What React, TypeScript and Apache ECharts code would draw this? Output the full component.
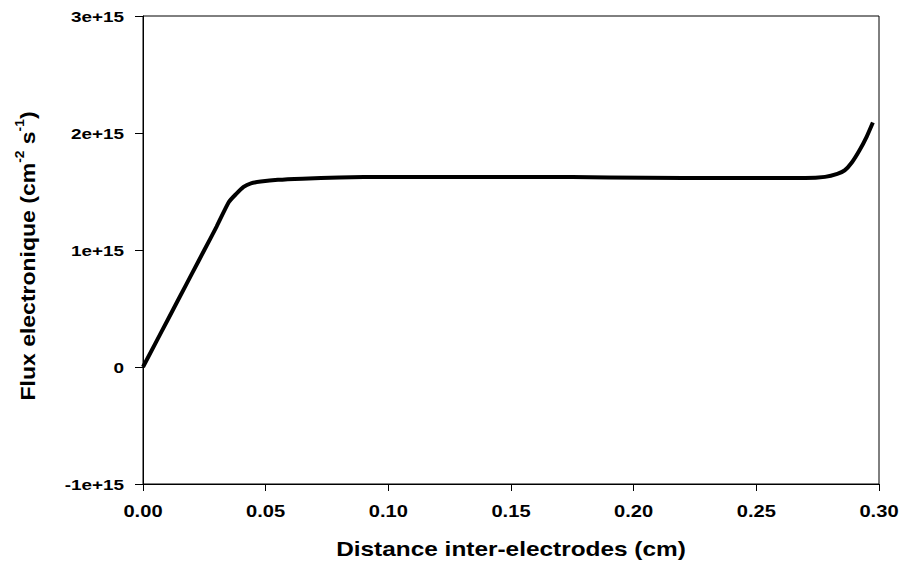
import React, { useEffect, useRef } from "react";
import * as echarts from "echarts";

const distance = [0, 0.005, 0.01, 0.015, 0.02, 0.025, 0.03, 0.035, 0.038, 0.041, 0.044, 0.048, 0.055, 0.065, 0.08, 0.1, 0.13, 0.16, 0.19, 0.22, 0.25, 0.27, 0.278, 0.283, 0.286, 0.289, 0.292, 0.295, 0.2975];
const fluxE15 = [0, 0.2, 0.4, 0.6, 0.8, 1.0, 1.2, 1.41, 1.48, 1.54, 1.57, 1.585, 1.6, 1.61, 1.62, 1.625, 1.625, 1.625, 1.62, 1.615, 1.615, 1.615, 1.625, 1.65, 1.68, 1.75, 1.85, 1.97, 2.09];
const xTickValues = [0, 0.05, 0.1, 0.15, 0.2, 0.25, 0.3];
const xTickLabels = ["0.00", "0.05", "0.10", "0.15", "0.20", "0.25", "0.30"];
const yTickValues = [-1e15, 0, 1e15, 2e15, 3e15];
const yTickLabels = ["-1e+15", "0", "1e+15", "2e+15", "3e+15"];
const xTitle = "Distance inter-electrodes (cm)";
const yTitleParts = ["Flux electronique (cm", "-2", " s", "-1", ")"];

export default function App() {
  const ref = useRef<HTMLDivElement>(null);
  useEffect(() => {
    document.body.style.margin = "0";
    const chart = echarts.init(ref.current!, null, { renderer: "svg" });
    const font = "'Liberation Sans', Arial, sans-serif";
    const stretch = 1.22;
    const data = distance.map((d, i) => [d, fluxE15[i] * 1e15]);
    chart.setOption({
      animation: false,
      backgroundColor: "#fff",
      grid: { left: 143, top: 16, right: 23, bottom: 81, show: true, borderColor: "#000", borderWidth: 1 },
      xAxis: {
        type: "value",
        min: 0,
        max: 0.3,
        interval: 0.05,
        axisLine: { show: true, onZero: false, lineStyle: { color: "#000", width: 1 } },
        axisTick: { show: true, length: 7, lineStyle: { color: "#000" } },
        axisLabel: { show: false },
        splitLine: { show: false },
      },
      yAxis: {
        type: "value",
        min: -1e15,
        max: 3e15,
        interval: 1e15,
        axisLine: { show: true, onZero: false, lineStyle: { color: "#000", width: 1 } },
        axisTick: { show: true, length: 8, lineStyle: { color: "#000" } },
        axisLabel: { show: false },
        splitLine: { show: false },
      },
      series: [
        {
          type: "line",
          data,
          showSymbol: false,
          smooth: 0.2,
          lineStyle: { color: "#000", width: 4 },
        },
      ],
    });

    const labelStyle = { fontFamily: font, fontWeight: "bold", fill: "#000" };
    const graphics: any[] = [];
    const axisBottomY = chart.convertToPixel({ yAxisIndex: 0 }, -1e15) as number;
    const axisLeftX = chart.convertToPixel({ xAxisIndex: 0 }, 0) as number;
    xTickValues.forEach((v, i) => {
      const px = chart.convertToPixel({ xAxisIndex: 0 }, v) as number;
      graphics.push({
        type: "text",
        x: px,
        y: axisBottomY + 27,
        scaleX: stretch,
        style: { ...labelStyle, fontSize: 16.5, text: xTickLabels[i], align: "center", verticalAlign: "middle" },
      });
    });
    yTickValues.forEach((v, i) => {
      const py = chart.convertToPixel({ yAxisIndex: 0 }, v) as number;
      graphics.push({
        type: "text",
        x: axisLeftX - 19,
        y: py + 1,
        scaleX: stretch,
        style: { ...labelStyle, fontSize: 15.5, text: yTickLabels[i], align: "right", verticalAlign: "middle" },
      });
    });
    const plotMidX = (axisLeftX + (chart.convertToPixel({ xAxisIndex: 0 }, 0.3) as number)) / 2;
    graphics.push({
      type: "text",
      x: plotMidX,
      y: axisBottomY + 65.5,
      scaleX: stretch,
      style: { text: xTitle, fontFamily: font, fontWeight: "bold", fontSize: 20, fill: "#000", align: "center", verticalAlign: "middle" },
    });
    graphics.push({
      type: "text",
      x: 26,
      y: 256,
      rotation: Math.PI / 2,
      scaleX: 1.15,
      style: {
        text: `{m|${yTitleParts[0]}}{s|${yTitleParts[1]}}{m|${yTitleParts[2]}}{s|${yTitleParts[3]}}{m|${yTitleParts[4]}}`,
        align: "center",
        verticalAlign: "middle",
        rich: {
          m: { fontFamily: font, fontWeight: "bold", fontSize: 20, fill: "#000", lineHeight: 24, verticalAlign: "bottom" },
          s: { fontFamily: font, fontWeight: "bold", fontSize: 12, fill: "#000", lineHeight: 24, verticalAlign: "top" },
        },
      },
    });
    chart.setOption({ graphic: graphics });
    return () => chart.dispose();
  }, []);
  return <div ref={ref} style={{ width: 902, height: 565 }} />;
}
